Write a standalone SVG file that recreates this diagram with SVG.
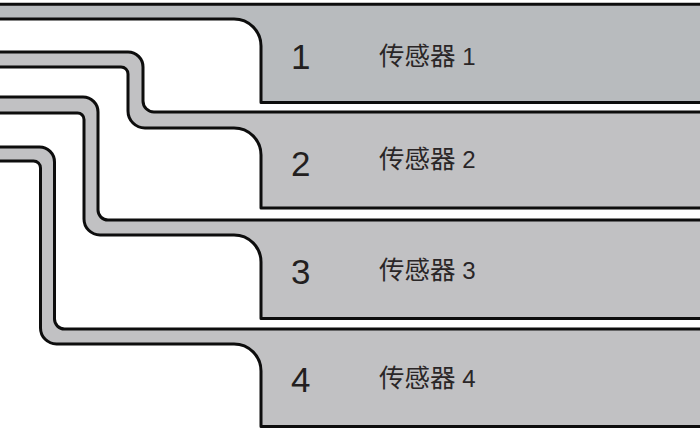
<svg xmlns="http://www.w3.org/2000/svg" width="700" height="428" viewBox="0 0 700 428">
<style>
.band{stroke:#0d0d0d;stroke-width:3;stroke-linejoin:round}
.t1{fill:#b8bbbe}
.tn{fill:#c1c1c3}
.num{font-family:"Liberation Sans",Arial,sans-serif;font-size:35px;fill:#231f20}
.lbl{font-family:"Liberation Sans","Noto Sans CJK SC",sans-serif;font-size:24px;fill:#2a2627}
.cjk{font-family:"Noto Sans CJK SC",sans-serif;font-size:25.5px}
</style>
<rect x="0" y="0" width="700" height="428" fill="#ffffff"/>
<g id="sensor-1">
<path class="band t1" d="M-10,4.3 H710 V102.5 H261 V46 A27,27 0 0 0 234,19 H-10 Z"/>
<text class="num" x="291" y="69">1</text>
<text class="lbl" x="379" y="65"><tspan class="cjk">传感器</tspan> 1</text>
</g>
<g id="sensor-2">
<path class="band tn" d="M-10,52 H128 A15,15 0 0 1 143,67 V101 A11,11 0 0 0 154,112 H710 V208 H261 V155 A27,27 0 0 0 234,128 H145 A17,17 0 0 1 128,111 V74 A7,7 0 0 0 121,67 H-10 Z"/>
<text class="num" x="291" y="176">2</text>
<text class="lbl" x="379" y="168"><tspan class="cjk">传感器</tspan> 2</text>
</g>
<g id="sensor-3">
<path class="band tn" d="M-10,97 H83 A15,15 0 0 1 98,112 V210 A10,10 0 0 0 108,220 H710 V318.5 H261 V262 A27,27 0 0 0 234,235 H100 A16,16 0 0 1 84,219 V119.5 A6.5,6.5 0 0 0 77.5,113 H-10 Z"/>
<text class="num" x="291" y="284">3</text>
<text class="lbl" x="379" y="279"><tspan class="cjk">传感器</tspan> 3</text>
</g>
<g id="sensor-4">
<path class="band tn" d="M-10,147 H39.5 A15,15 0 0 1 54.5,162 V319 A10,10 0 0 0 64.5,329 H710 V426.5 H261 V371 A27,27 0 0 0 234,344 H56.5 A16,16 0 0 1 40.5,328 V168 A7,7 0 0 0 33.5,161 H-10 Z"/>
<text class="num" x="291" y="392">4</text>
<text class="lbl" x="379" y="387"><tspan class="cjk">传感器</tspan> 4</text>
</g>
</svg>
